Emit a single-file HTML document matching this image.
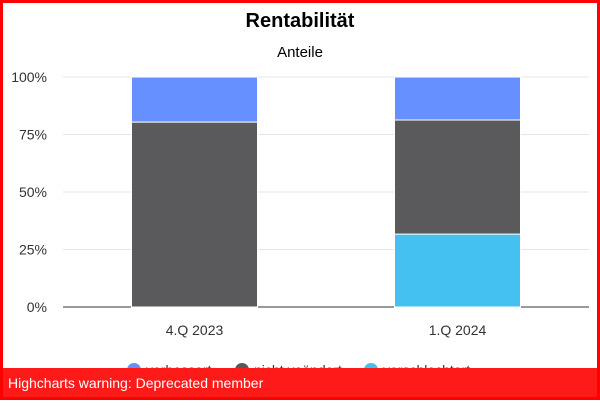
<!DOCTYPE html>
<html><head><meta charset="utf-8"><style>
body{margin:0;width:600px;height:400px;overflow:hidden;background:#fff;font-family:"Liberation Sans",sans-serif}
#wrap{position:relative;width:600px;height:400px}
#border{position:absolute;left:0;top:0;width:594px;height:394px;border:3px solid #f00;pointer-events:none}
#warn{position:absolute;left:3px;top:368px;width:594px;height:29px;background:#ff1a1a;color:#fff;font-size:14px;line-height:31px;padding-left:5px;box-sizing:border-box}
</style></head><body>
<div id="wrap">
<svg id="chart" width="600" height="400">
<text x="300" y="27" text-anchor="middle" font-size="20" font-weight="bold" fill="#000">Rentabilität</text>
<text x="300" y="57" text-anchor="middle" font-size="15" fill="#000">Anteile</text>
<g id="grid"></g><g id="bars"></g><g id="xlabels"></g>
<g id="legend"></g>
<text x="590" y="393" text-anchor="end" font-size="12" fill="#999">Amt für Statistik Liechtenstein</text>
</svg>
<div id="warn">Highcharts warning: Deprecated member</div>
<div id="border"></div>
</div>
<script>
const categories=["4.Q 2023","1.Q 2024"];
const seriesNames=["verbessert","nicht veändert","verschlechtert"];
const verbessert=[19.6,18.7];
const nichtVeraendert=[80.4,49.6];
const verschlechtert=[0,31.7];
const yTicks=[0,25,50,75,100];
const colors=["#6690ff","#5a5a5c","#44c1f0"];
const ns="http://www.w3.org/2000/svg";
const X0=63,X1=589,Y0=307,Y1=77;
const y=v=>Y0-(v/100)*(Y0-Y1);
const bw=(X1-X0)/categories.length;
const xc=i=>X0+bw*(i+0.5);
function mk(tag,attrs,parent){const e=document.createElementNS(ns,tag);for(const k in attrs)e.setAttribute(k,attrs[k]);parent.appendChild(e);return e;}
const grid=document.getElementById('grid');
yTicks.forEach(t=>{
 const l=mk('line',{x1:X0,x2:X1,y1:y(t),y2:y(t),stroke:t===0?'#333':'#e6e6e6','stroke-width':1},grid);
 
 
 const tx=mk('text',{x:47,y:y(t)+5,'text-anchor':'end','font-size':14,fill:'#333'},grid);
 tx.textContent=t+'%';
 
 
});
const bars=document.getElementById('bars');
const stack=[verschlechtert,nichtVeraendert,verbessert];
const stackIdx=[2,1,0];
categories.forEach((c,i)=>{
 let base=0;
 stack.forEach((arr,k)=>{
  const v=arr[i];
  if(v>0){
   const r=mk('rect',{x:xc(i)-63,width:126,y:y(base+v),height:y(base)-y(base+v),fill:colors[stackIdx[k]],stroke:'#fff','stroke-width':1},bars);
   
   
  }
  base+=v;
 });
 const t=mk('text',{x:xc(i),y:335,'text-anchor':'middle','font-size':14,fill:'#333'},document.getElementById('xlabels'));
 t.textContent=c;
 
 
});
const lg=document.getElementById('legend');
const lx=[134,242,371];
seriesNames.forEach((n,i)=>{
 const g=mk('g',{},lg);
 
 
 mk('circle',{cx:lx[i],cy:370,r:7,fill:colors[i]},g);
 const t=mk('text',{x:lx[i]+12,y:375,'font-size':14,fill:'#333'},g);
 t.textContent=n;
});
</script>
</body></html>
